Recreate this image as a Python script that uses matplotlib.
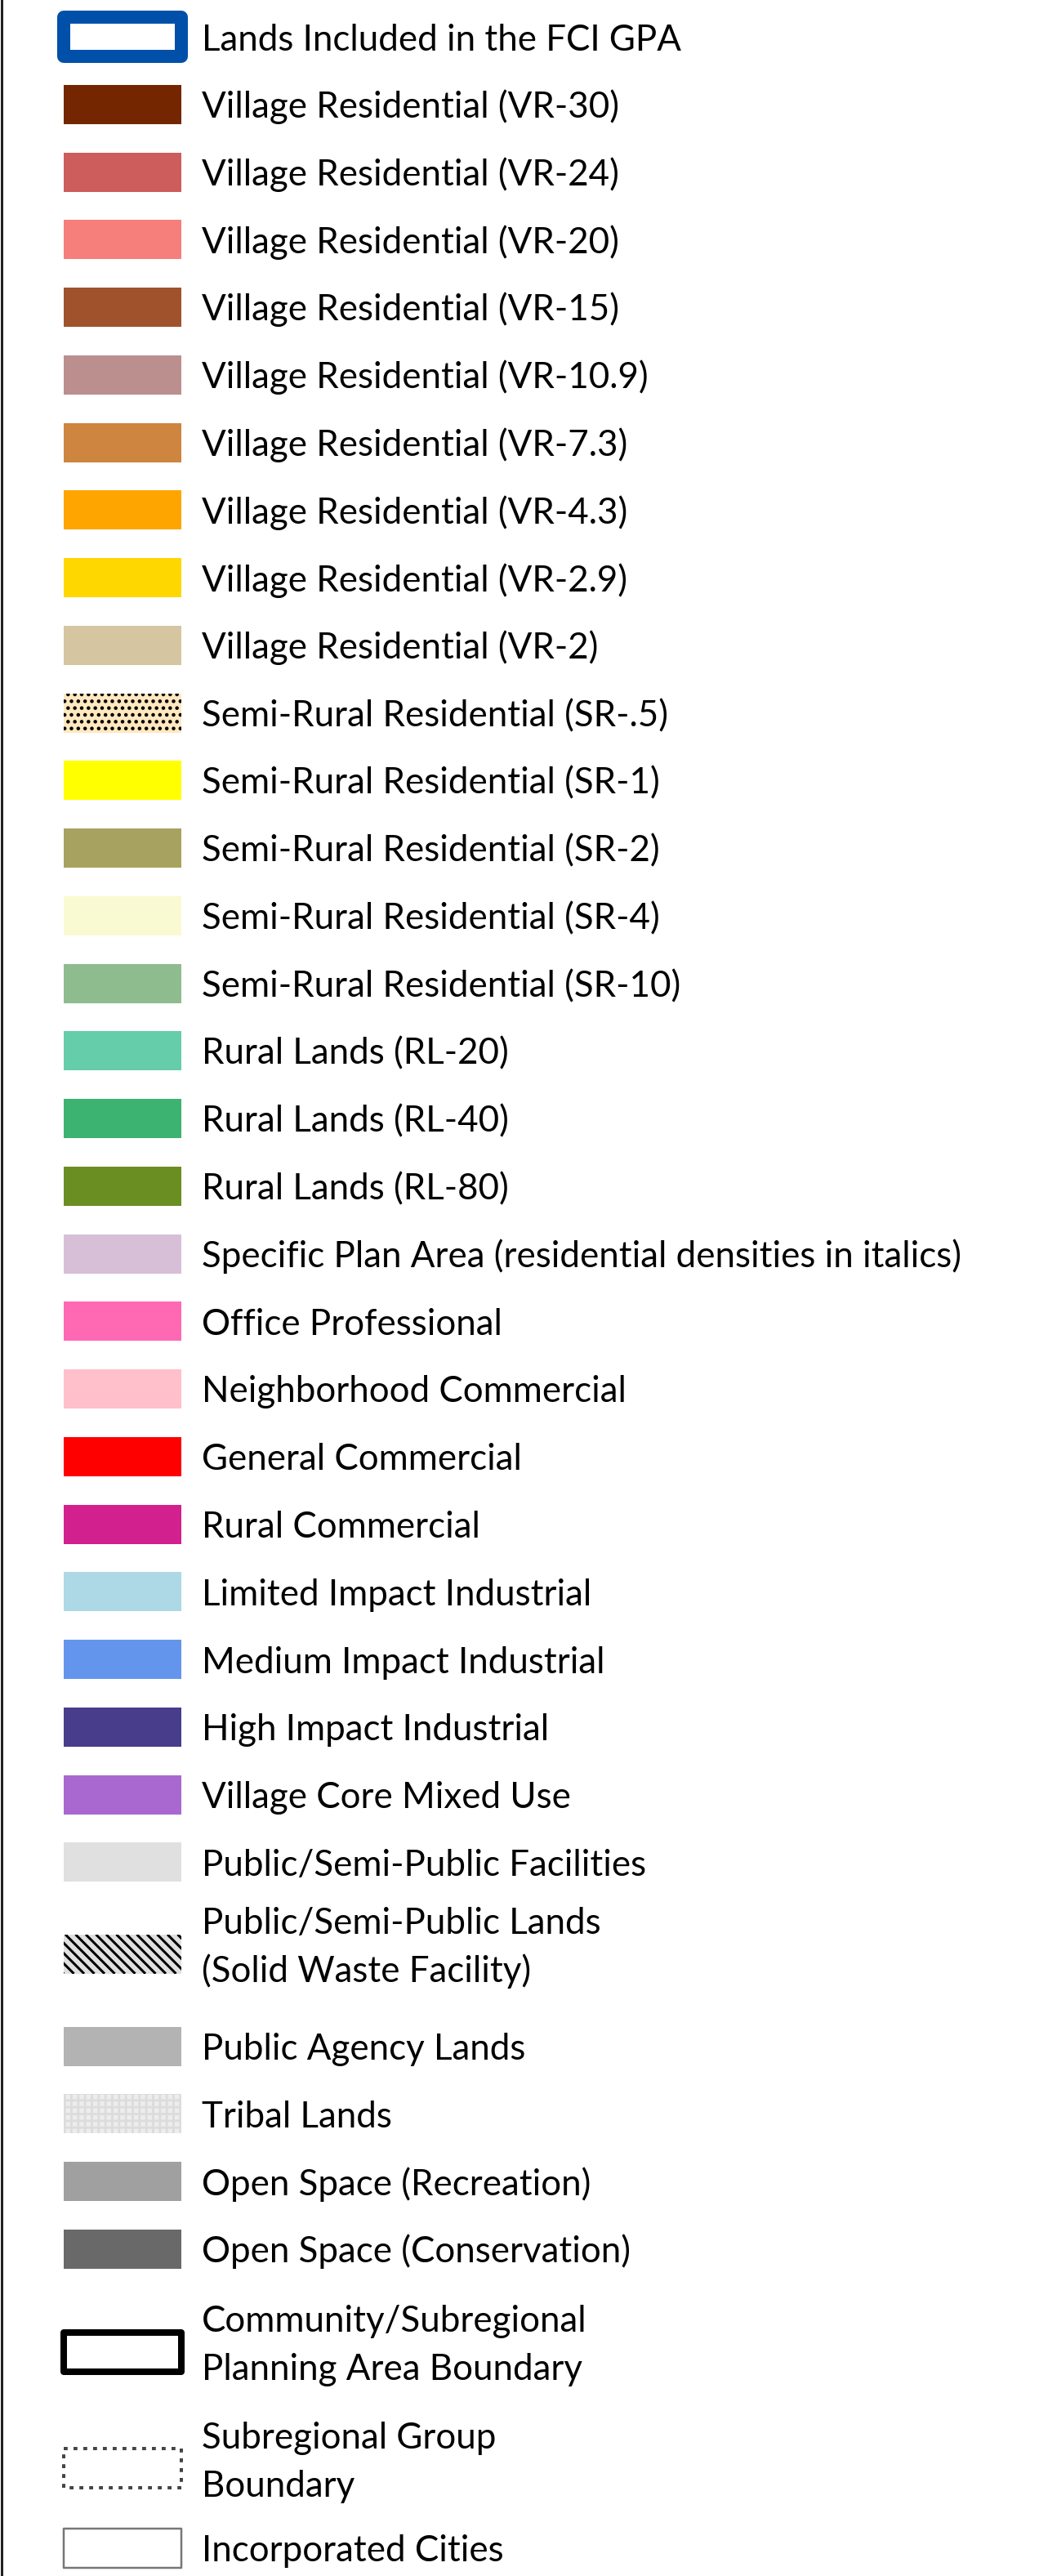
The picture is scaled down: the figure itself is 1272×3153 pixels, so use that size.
import numpy as np
import matplotlib
matplotlib.use("Agg")
import matplotlib.pyplot as plt
from matplotlib.patches import Rectangle

# legend entries, top to bottom
labels = [
    "Lands Included in the FCI GPA",
    "Village Residential (VR-30)",
    "Village Residential (VR-24)",
    "Village Residential (VR-20)",
    "Village Residential (VR-15)",
    "Village Residential (VR-10.9)",
    "Village Residential (VR-7.3)",
    "Village Residential (VR-4.3)",
    "Village Residential (VR-2.9)",
    "Village Residential (VR-2)",
    "Semi-Rural Residential (SR-.5)",
    "Semi-Rural Residential (SR-1)",
    "Semi-Rural Residential (SR-2)",
    "Semi-Rural Residential (SR-4)",
    "Semi-Rural Residential (SR-10)",
    "Rural Lands (RL-20)",
    "Rural Lands (RL-40)",
    "Rural Lands (RL-80)",
    "Specific Plan Area (residential densities in italics)",
    "Office Professional",
    "Neighborhood Commercial",
    "General Commercial",
    "Rural Commercial",
    "Limited Impact Industrial",
    "Medium Impact Industrial",
    "High Impact Industrial",
    "Village Core Mixed Use",
    "Public/Semi-Public Facilities",
    "Public/Semi-Public Lands\n(Solid Waste Facility)",
    "Public Agency Lands",
    "Tribal Lands",
    "Open Space (Recreation)",
    "Open Space (Conservation)",
    "Community/Subregional\nPlanning Area Boundary",
    "Subregional Group\nBoundary",
    "Incorporated Cities",
]

fills = [
    "white", "#732600", "#CD5C5C", "#F67E7B", "#A0522D", "#BC8F8F",
    "#CD853F", "#FFA500", "#FFD700", "#D5C5A1", "#FFE8C0", "#FFFF00",
    "#A8A261", "#FAFAD2", "#8FBC8F", "#66CDAA", "#3CB371", "#6B8E23",
    "#D8BFD8", "#FF69B4", "#FFC0CB", "#FF0000", "#D2218F", "#ADD8E6",
    "#6495ED", "#483D8B", "#A968D0", "#E0E0E0", "#E0E0E0", "#B3B3B3",
    "#EDEDED", "#A0A0A0", "#696969", "white", "white", "white",
]

# special swatch styles: index -> (edgecolor, linewidth px, linestyle, hatch)
special = {
    0: ("#0050AA", 16, "solid", None),
    10: ("black", 0, "solid", ".."),
    30: ("#DCDCDC", 0, "solid", "++"),
    33: ("black", 8, "solid", None),
    34: ("#444444", 4, (0, (1.2, 1.8)), None),
    35: ("#777777", 2.5, "solid", None),
}
striped = [28]  # diagonal black stripes

# spacing between rows (in row units), default 1
gaps = {28: 1.36, 29: 1.365, 33: 1.52, 34: 1.72, 35: 1.18}

W, H = 1272, 3153
fig = plt.figure(figsize=(W / 100, H / 100), dpi=100)
ax = fig.add_axes([0, 0, 1, 1])
ax.set_xlim(0, W)
ax.set_ylim(H, 0)
ax.axis("off")

plt.rcParams["hatch.linewidth"] = 2.0

pitch = 82.75
sw_x, sw_w, sw_h = 78, 144, 48
tx = 247
fs = 31.6
font = "Lato"
px = 72 / 100  # points per pixel

ax.plot([1.5, 1.5], [0, H], color="#222222", lw=3 * px)

y = 45.0
for i, lab in enumerate(labels):
    if i > 0:
        y += pitch * gaps.get(i, 1.0)
    ec, lw, ls, hatch = special.get(i, ("none", 0, "solid", None))
    r = Rectangle((sw_x, y - sw_h / 2), sw_w, sw_h, facecolor=fills[i],
                  edgecolor=ec, linewidth=lw * px, linestyle=ls,
                  hatch=hatch, joinstyle="round")
    ax.add_patch(r)
    if i in striped:
        step = 12.5
        top = y - sw_h / 2
        for x0 in np.arange(sw_x - sw_h, sw_x + sw_w + step, step):
            ln, = ax.plot([x0, x0 + sw_h], [top, top + sw_h], color="black",
                          lw=3 * px, solid_capstyle="butt")
            ln.set_clip_path(r)
    lines = lab.split("\n")
    if len(lines) == 1:
        ax.text(tx, y + 16.5, lab, fontsize=fs, family=font, va="baseline")
    else:
        ax.text(tx, y - 24.5, lines[0], fontsize=fs, family=font, va="baseline")
        ax.text(tx, y + 34.5, lines[1], fontsize=fs, family=font, va="baseline")

fig.savefig("out.png", dpi=100)
